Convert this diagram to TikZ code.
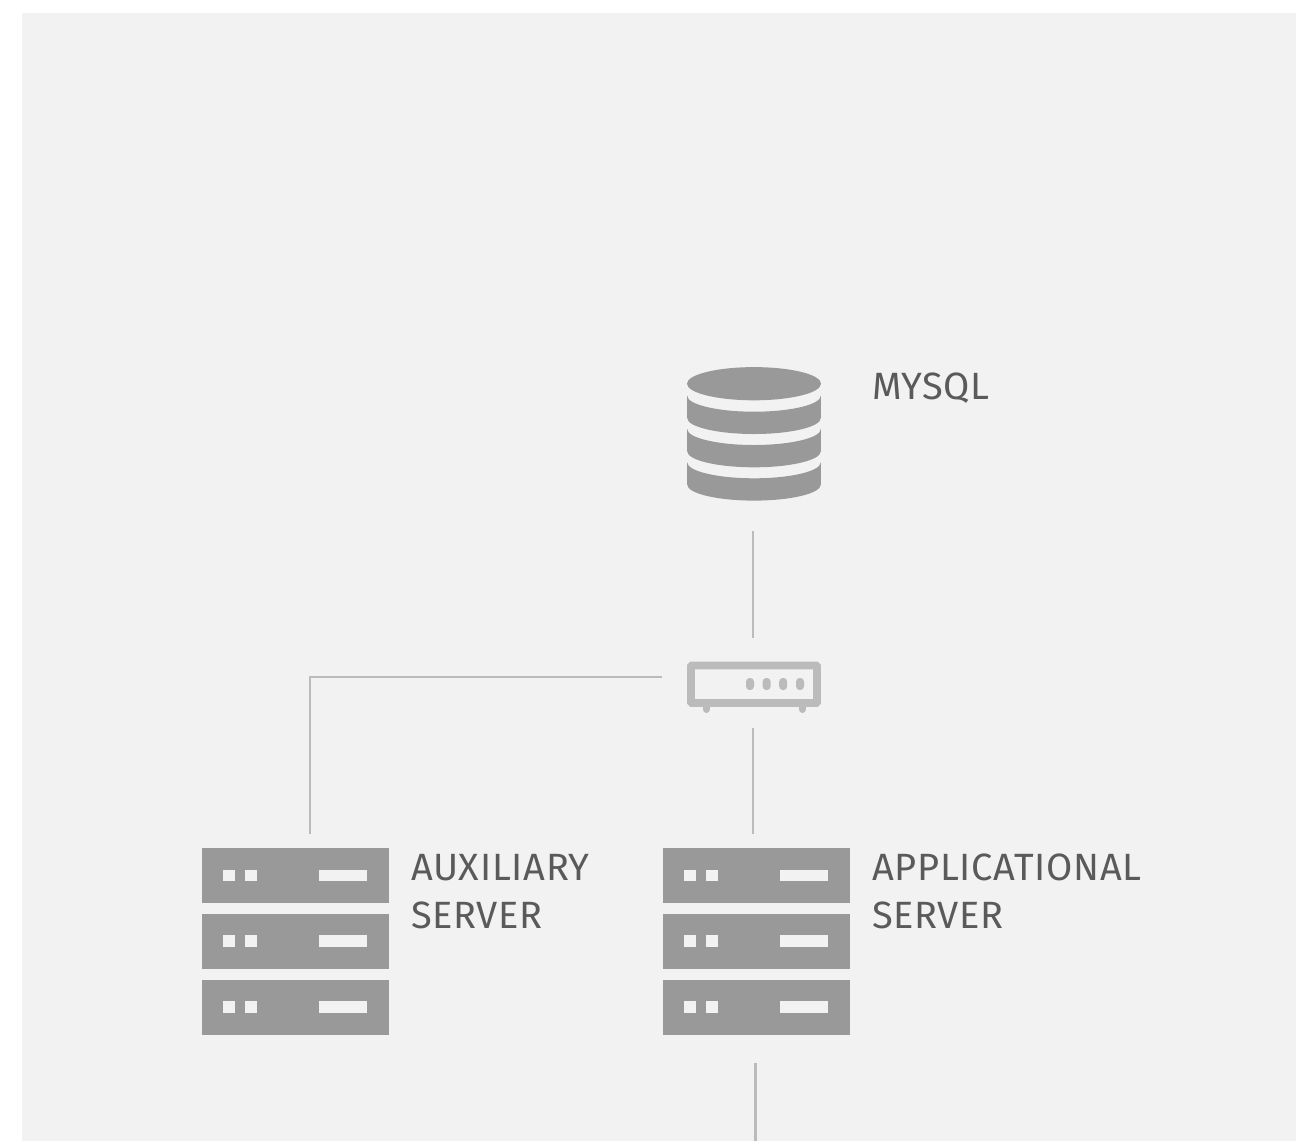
\documentclass[tikz,border=0pt]{standalone}
\usepackage{fontspec}
\newfontfamily\lab[LetterSpace=1.9]{Fira Sans}
\definecolor{panel}{HTML}{F2F2F2}
\definecolor{icon}{HTML}{999999}
\definecolor{wire}{HTML}{BBBBBB}
\definecolor{txt}{HTML}{5A5A5A}
\tikzset{
  x=1pt,y=-1pt,
  slot/.style={draw=none,inner sep=0pt,outer sep=0pt,minimum width=#1},
  wirepath/.style={draw=wire,line width=2.8pt},
  label text/.style={inner sep=0pt,outer sep=0pt,anchor=base west,align=left,text=txt,font=\fontsize{38}{48}\selectfont\lab},
  hole/.style={fill=panel},
  server unit/.pic={
    \fill[icon] (0,0) rectangle (186.5,55);
    \fill[hole] (21.3,21.7) rectangle (32.7,33);
    \fill[hole] (43.3,21.7) rectangle (54.7,33);
    \fill[hole] (117.3,21.7) rectangle (164.7,33);
  },
  server rack/.pic={
    \pic at (0,0) {server unit};
    \pic at (0,65.7) {server unit};
    \pic at (0,131.5) {server unit};
  },
}
\begin{document}
\begin{tikzpicture}
\useasboundingbox (0,0) rectangle (1296,1141);
\fill[white] (0,0) rectangle (1296,1141);
\fill[panel] (22,13) rectangle (1296,1141);

% database icon
\node[slot=134pt,minimum height=134pt] (db) at (754,434) {};
\fill[icon] (754,383.7) ellipse [x radius=67pt,y radius=16.6pt];
\foreach \ys in {395.7,429,462.3}{
  \fill[icon] (687.2,\ys) arc [start angle=180,end angle=360,x radius=66.8pt,y radius=16pt]
    -- ++(0,22.3) arc [start angle=0,end angle=-180,x radius=66.8pt,y radius=16pt] -- cycle;
}

% switch icon
\node[slot=134pt,minimum height=52pt] (router) at (754,687.5) {};
\draw[draw=wire,fill=wire,line width=7pt,line cap=round] (706,706) -- (706,709.5);
\draw[draw=wire,fill=wire,line width=7pt,line cap=round] (802,706) -- (802,709.5);
\draw[wire,line width=7.6pt,rounded corners=0.8pt] (691,665.5) rectangle (817,703);
\foreach \dx in {750,766.6,783.2,800}{
  \fill[wire,rounded corners=3.6pt] (\dx-4,678) rectangle (\dx+4,690);
}

% servers
\node[slot=186.5pt,minimum height=186.5pt] (aux) at (295.25,941.25) {};
\node[slot=186.5pt,minimum height=186.5pt] (app) at (756.25,941.25) {};
\pic at (202,848) {server rack};
\pic at (663,848) {server rack};

% labels
\node[label text] (mysql) at (872,399) {MYSQL};
\node[label text] (auxlabel) at (411,928.2) {AUXILIARY\\SERVER};
\node[label text] (applabel) at (872,928.2) {APPLICATIONAL\\SERVER};

% connectors
\coordinate (downlink) at (755.5,1141);
\draw[wirepath,shorten <=30pt,shorten >=24pt] (db.south -| 753,0) -- (router.north -| 753,0);
\draw[wirepath,shorten <=14pt,shorten >=14pt] (router.south -| 753,0) -- (app.north -| 753,0);
\draw[wirepath,shorten <=25pt,shorten >=14pt] (router.west |- 0,677) -| (aux.north -| 310,0);
\draw[wirepath,shorten <=28pt] (app.south -| 755.5,0) -- (downlink);
\end{tikzpicture}
\end{document}
